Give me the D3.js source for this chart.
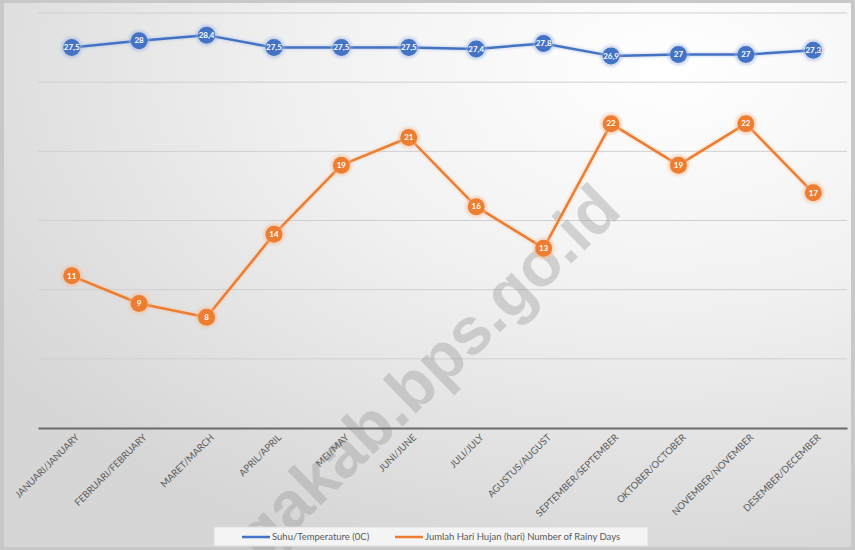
<!DOCTYPE html>
<html><head><meta charset="utf-8">
<script src="https://cdn.jsdelivr.net/npm/d3@7/dist/d3.min.js"></script>
<style>html,body{margin:0;padding:0;background:#fff;}svg{display:block;}</style>
</head><body><div id="chart"></div>
<script>
const months = ["JANUARI/JANUARY","FEBRUARI/FEBRUARY","MARET/MARCH","APRIL/APRIL","MEI/MAY","JUNI/JUNE","JULI/JULY","AGUSTUS/AUGUST","SEPTEMBER/SEPTEMBER","OKTOBER/OCTOBER","NOVEMBER/NOVEMBER","DESEMBER/DECEMBER"];
const temperature = [27.5, 28, 28.4, 27.5, 27.5, 27.5, 27.4, 27.8, 26.9, 27, 27, 27.3];
const rainyDays = [11, 9, 8, 14, 19, 21, 16, 13, 22, 19, 22, 17];
const yTicks = [0, 5, 10, 15, 20, 25, 30];
const seriesNames = ["Suhu/Temperature (0C)", "Jumlah Hari Hujan (hari) Number of Rainy Days"];

const W = 855, H = 550;
const svg = d3.select("#chart").append("svg").attr("width", W).attr("height", H);
const defs = svg.append("defs");
const bg = defs.append("radialGradient").attr("id","bg").attr("cx","0.78").attr("cy","0.12").attr("r","0.95");
bg.append("stop").attr("offset","0").attr("stop-color","#ffffff");
bg.append("stop").attr("offset","0.45").attr("stop-color","#f1f1f1");
bg.append("stop").attr("offset","1").attr("stop-color","#d6d6d6");
const glow = defs.append("filter").attr("id","glow").attr("x","-50%").attr("y","-50%").attr("width","200%").attr("height","200%");
glow.append("feGaussianBlur").attr("stdDeviation","1.2");

svg.append("rect").attr("x",0).attr("y",0).attr("width",W).attr("height",H).attr("fill","#c8c8c8");
svg.append("rect").attr("x",4).attr("y",3).attr("width",W-8).attr("height",H-6).attr("fill","url(#bg)");

const x = d3.scaleBand().domain(months).range([38, 847]);
const y = d3.scaleLinear().domain([0, 30]).range([428, 13]);
const cx = m => x(m) + x.bandwidth()/2;

// gridlines
svg.append("g").selectAll("line").data(yTicks.filter(t => t > 0)).join("line")
  .attr("x1", 38).attr("x2", 847).attr("y1", d => y(d)).attr("y2", d => y(d))
  .attr("stroke", "#cfcfcf").attr("stroke-width", 1);

// watermark
svg.append("text").attr("transform","translate(262,562) rotate(-44)")
  .attr("font-family","Liberation Sans, Arial, sans-serif").attr("font-weight","bold")
  .attr("font-size", 66).attr("fill","#9c9c9c").attr("fill-opacity",0.4)
  .text("gakab.bps.go.id");

// x axis
const xAxis = svg.append("g").attr("transform","translate(0,428)")
  .call(d3.axisBottom(x).tickSize(0).tickPadding(0));
xAxis.select(".domain").attr("stroke","#6b6b6b").attr("stroke-width",2);
xAxis.selectAll(".tick text")
  .attr("font-family","Lato, Open Sans, sans-serif").attr("font-size",9.5).attr("fill","#5a5a5a")
  .attr("text-anchor","end").attr("dy",0)
  .attr("transform","translate(8,10) rotate(-45)");

function drawSeries(vals, color, glowColor) {
  const line = d3.line().x((d,i) => cx(months[i])).y(d => y(d));
  svg.append("path").datum(vals).attr("d", line).attr("fill","none")
    .attr("stroke", glowColor).attr("stroke-width", 5).attr("stroke-opacity",0.35).attr("filter","url(#glow)");
  svg.append("path").datum(vals).attr("d", line).attr("fill","none")
    .attr("stroke", color).attr("stroke-width", 2.5).attr("stroke-linejoin","round");
  const g = svg.append("g").selectAll("g").data(vals).join("g")
    .attr("transform",(d,i) => `translate(${cx(months[i])},${y(d)})`);
  g.append("circle").attr("r", 11).attr("fill", glowColor).attr("fill-opacity",0.45).attr("filter","url(#glow)");
  g.append("circle").attr("r", 8.5).attr("fill", color);
  g.append("text").attr("text-anchor","middle").attr("dy","0.35em")
    .attr("font-family","Lato, Open Sans, sans-serif").attr("font-weight","bold").attr("font-size",8)
    .attr("fill","#ffffff").text(d => String(d).replace(".", ","));
}
drawSeries(rainyDays, "#ED7D31", "#f6b98f");
drawSeries(temperature, "#4472C4", "#9db5e3");

// legend
const lg = svg.append("g");
lg.append("rect").attr("x",214).attr("y",527).attr("width",434).attr("height",19)
  .attr("fill","#f4f4f4").attr("stroke","#dcdcdc");
const items = [{name: seriesNames[0], color:"#4472C4", x:242}, {name: seriesNames[1], color:"#ED7D31", x:395}];
items.forEach(it => {
  lg.append("line").attr("x1", it.x).attr("x2", it.x+28).attr("y1",537).attr("y2",537)
    .attr("stroke", it.color).attr("stroke-width",2.5);
  lg.append("text").attr("x", it.x+30).attr("y",537).attr("dy","0.35em")
    .attr("font-family","Lato, Open Sans, sans-serif").attr("font-size",9.5).attr("fill","#5a5a5a").text(it.name);
});
</script></body></html>
